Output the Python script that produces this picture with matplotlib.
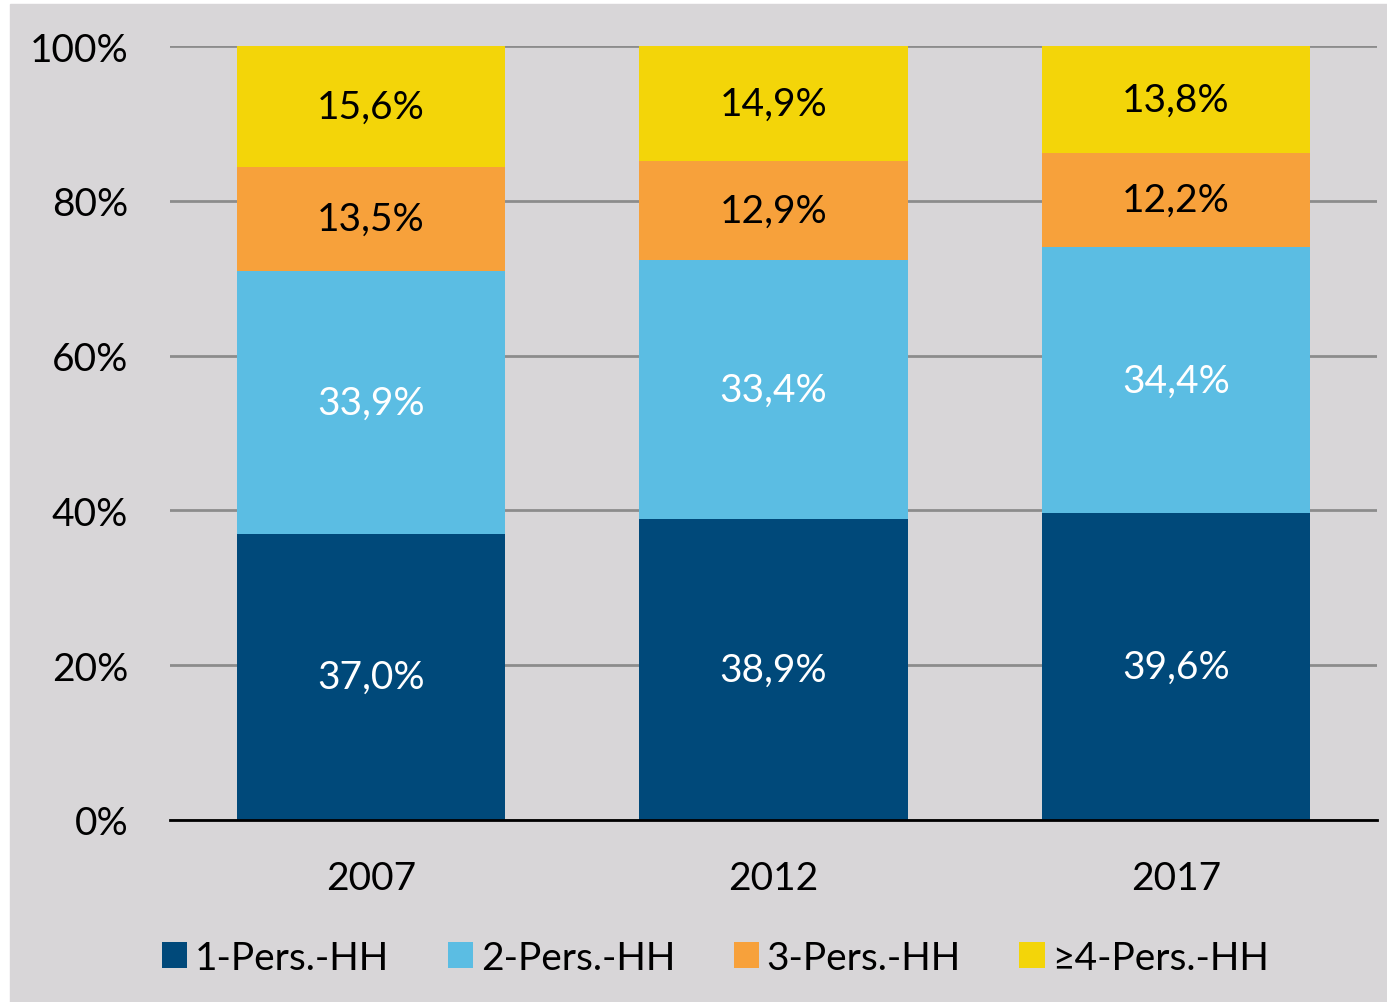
import matplotlib.pyplot as plt
import matplotlib.patches as mpatches
import numpy as np

plt.rcParams['font.family'] = ['Lato', 'DejaVu Sans']

# data
years = ['2007', '2012', '2017']
series = ['1-Pers.-HH', '2-Pers.-HH', '3-Pers.-HH', '≥4-Pers.-HH']
hh1 = [37.0, 38.9, 39.6]
hh2 = [33.9, 33.4, 34.4]
hh3 = [13.5, 12.9, 12.2]
hh4 = [15.6, 14.9, 13.8]
colors = ['#00497A', '#5BBDE3', '#F7A13B', '#F3D509']
text_colors = ['white', 'white', 'black', 'black']

fs = 28

fig = plt.figure(figsize=(13.87, 10.03), dpi=100)
fig.patch.set_facecolor('white')
# grey panel with thin white margin on the left and top
fig.patches.append(mpatches.Rectangle((10/1387, 0), 1 - 10/1387, 1 - 5/1003,
                                      transform=fig.transFigure, color='#D8D6D8', zorder=-10))

ax = fig.add_axes([170/1387, 1 - 821/1003, 1207/1387, 774/1003])
ax.set_facecolor('none')

x = np.arange(len(years))
bottom = np.zeros(len(years))
for vals, name, col, tc in zip([hh1, hh2, hh3, hh4], series, colors, text_colors):
    vals = np.array(vals)
    top = np.minimum(bottom + vals, 100)
    ax.bar(x, top - bottom, 0.667, bottom=bottom, color=col, label=name, zorder=2)
    for xi, b, v, t in zip(x, bottom, vals, top):
        ax.text(xi, (b + t) / 2, f'{v:.1f}%'.replace('.', ','), ha='center', va='center',
                color=tc, fontsize=fs, zorder=3)
    bottom = top

ax.set_xlim(-0.5, 2.5)
ax.set_ylim(0, 100)
ax.set_yticks(range(0, 101, 20))
ax.set_yticklabels([f'{v}%' for v in range(0, 101, 20)], fontsize=fs)
ax.set_xticks(x)
ax.set_xticklabels(years, fontsize=fs)
ax.tick_params(axis='both', length=0)
ax.tick_params(axis='y', pad=30)
ax.tick_params(axis='x', pad=29)
ax.yaxis.grid(True, color='#8C8C8C', linewidth=2, zorder=1)
ax.set_axisbelow(True)
for s in ['top', 'right', 'left']:
    ax.spines[s].set_visible(False)
ax.spines['bottom'].set_color('black')
ax.spines['bottom'].set_linewidth(2)
ax.spines['bottom'].set_zorder(4)

fig.legend(loc='center', bbox_to_anchor=(0.516, 1 - 959/1003), ncol=4, frameon=False,
           fontsize=fs, handlelength=0.65, handleheight=0.65, handletextpad=0.2,
           columnspacing=1.5)

fig.savefig('out.png', dpi=100)
